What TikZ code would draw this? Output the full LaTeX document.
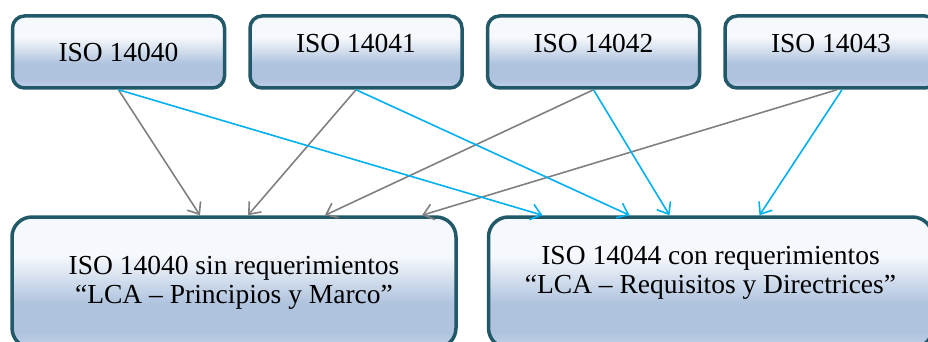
\documentclass[tikz,border=0pt]{standalone}
\usepackage{fontspec}
\setmainfont{Liberation Serif}
\usepackage{xcolor}
\usetikzlibrary{arrows.meta,positioning}
\definecolor{Edge}{HTML}{215968}
\definecolor{Top}{HTML}{F5F8FC}
\definecolor{Low}{HTML}{AFC3DE}
\definecolor{Foot}{HTML}{C4D3E8}
\definecolor{Sin}{HTML}{808080}
\definecolor{Con}{HTML}{00B0F0}
\pgfdeclareverticalshading{isofill}{100bp}{color(0bp)=(Foot); color(25bp)=(Foot); color(31bp)=(Low); color(42bp)=(Low); color(60bp)=(Top); color(100bp)=(Top)}

\begin{document}
\begin{tikzpicture}[x=1pt,y=-1pt,font=\fontsize{27.5}{29}\selectfont,
  iso/.style={draw=Edge,line width=3.5pt,rounded corners=12pt,shade,shading=isofill,minimum width=212pt,minimum height=72pt,inner sep=0pt,text height=19pt,text depth=0pt},
  isobig/.style={draw=Edge,line width=3.5pt,rounded corners=20pt,shade,shading=isofill,minimum width=444pt,minimum height=131pt,inner sep=0pt,align=center},
  toSin/.style={-{Straight Barb[length=10pt,width=16pt]},line width=1.6pt,Sin},
  toCon/.style={-{Straight Barb[length=10pt,width=16pt]},line width=1.6pt,Con}]
  \useasboundingbox (0,0) rectangle (928,342);
  \clip (0,0) rectangle (928,342);
  \node[iso] (t40) at (118.5,52) {ISO 14040};
  \node[iso,text depth=17pt,right=22pt of t40] (t41) {ISO 14041};
  \node[iso,text depth=17pt,right=22pt of t41] (t42) {ISO 14042};
  \node[iso,text depth=17pt,right=22pt of t42] (t43) {ISO 14043};
  \node[isobig] (bSin) at (234,282.5) {ISO 14040 sin requerimientos\\``LCA -- Principios y Marco''};
  \node[isobig,right=29pt of bSin] (bCon) {ISO 14044 con requerimientos\\``LCA -- Requisitos y Directrices''\\[-4pt]\mbox{}};
  \draw[toSin] (t40.south) -- ([xshift=-34pt]bSin.north);
  \draw[toSin] (t41.south) -- ([xshift=14pt]bSin.north);
  \draw[toSin] (t42.south) -- ([xshift=91pt]bSin.north);
  \draw[toSin] ([xshift=6pt]t43.south) -- ([xshift=188pt]bSin.north);
  \draw[toCon] (t40.south) -- ([xshift=-168pt]bCon.north);
  \draw[toCon] (t41.south) -- ([xshift=-81pt]bCon.north);
  \draw[toCon] (t42.south) -- ([xshift=-41pt]bCon.north);
  \draw[toCon] ([xshift=11pt]t43.south) -- ([xshift=49pt]bCon.north);
\end{tikzpicture}
\end{document}
